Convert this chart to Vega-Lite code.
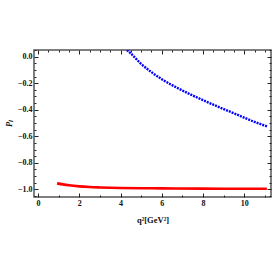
{
  "$schema": "https://vega.github.io/schema/vega-lite/v6.json",
  "autosize": "none",
  "width": 237,
  "height": 147,
  "padding": {"left": 34, "top": 50, "right": 2, "bottom": 76},
  "background": "white",
  "config": {
    "view": {"stroke": "#555555", "strokeWidth": 1.5},
    "axis": {
      "domain": false,
      "grid": false,
      "labelFont": "Liberation Serif",
      "labelFontWeight": "bold",
      "labelFontSize": 8,
      "labelColor": "#111111",
      "tickColor": "#222222",
      "tickWidth": 1,
      "titleFont": "Liberation Serif",
      "titleFontWeight": "bold",
      "titleFontSize": 8.5,
      "titleColor": "#111111",
      "labelOverlap": false,
      "labelFlush": false
    }
  },
  "datasets": {
    "red": [
      {"q2": 0.92, "PL": -0.955},
      {"q2": 1.2, "PL": -0.963},
      {"q2": 1.5, "PL": -0.970},
      {"q2": 2.0, "PL": -0.978},
      {"q2": 2.5, "PL": -0.983},
      {"q2": 3.0, "PL": -0.986},
      {"q2": 4.0, "PL": -0.990},
      {"q2": 5.0, "PL": -0.992},
      {"q2": 6.0, "PL": -0.993},
      {"q2": 8.0, "PL": -0.995},
      {"q2": 10.0, "PL": -0.996},
      {"q2": 11.1, "PL": -0.996}
    ],
    "blue": [
      {"q2": 4.31, "PL": 0.05},
      {"q2": 4.5, "PL": 0.024},
      {"q2": 5.0, "PL": -0.055},
      {"q2": 5.5, "PL": -0.117},
      {"q2": 6.0, "PL": -0.17},
      {"q2": 6.5, "PL": -0.215},
      {"q2": 7.0, "PL": -0.255},
      {"q2": 7.5, "PL": -0.293},
      {"q2": 8.0, "PL": -0.328},
      {"q2": 8.5, "PL": -0.362},
      {"q2": 9.0, "PL": -0.395},
      {"q2": 9.5, "PL": -0.427},
      {"q2": 10.0, "PL": -0.46},
      {"q2": 10.5, "PL": -0.492},
      {"q2": 11.15, "PL": -0.528}
    ]
  },
  "resolve": {"axis": {"x": "independent", "y": "independent"}},
  "layer": [
    {
      "data": {"name": "red"},
      "mark": {"type": "line", "color": "#ff0000", "strokeWidth": 2.6, "clip": true, "interpolate": "monotone"},
      "encoding": {
        "x": {
          "field": "q2", "type": "quantitative",
          "scale": {"domain": [-0.2, 11.3], "nice": false, "zero": false},
          "axis": {
            "orient": "bottom",
            "title": "q²[GeV²]",
            "titlePadding": 6,
            "format": "d",
            "values": [0,0.5,1,1.5,2,2.5,3,3.5,4,4.5,5,5.5,6,6.5,7,7.5,8,8.5,9,9.5,10,10.5,11],
            "labelExpr": "datum.value % 2 === 0 ? datum.label : ''",
            "tickSize": {"condition": {"test": "datum.value % 2 === 0", "value": -4}, "value": -2},
            "labelPadding": 6
          }
        },
        "y": {
          "field": "PL", "type": "quantitative",
          "scale": {"domain": [-1.058, 0.05], "nice": false, "zero": false},
          "axis": {
            "orient": "left",
            "title": "Pₗ",
            "titleFontStyle": "italic",
            "titlePadding": 4,
            "format": ".1f",
            "values": [-1.05,-1,-0.95,-0.9,-0.85,-0.8,-0.75,-0.7,-0.65,-0.6,-0.55,-0.5,-0.45,-0.4,-0.35,-0.3,-0.25,-0.2,-0.15,-0.1,-0.05,0,0.05],
            "labelExpr": "abs(round(datum.value*5) - datum.value*5) < 0.001 ? datum.label : ''",
            "tickSize": {"condition": {"test": "abs(round(datum.value*5) - datum.value*5) < 0.001", "value": -4}, "value": -2},
            "labelPadding": 6
          }
        }
      }
    },
    {
      "data": {"name": "blue"},
      "mark": {"type": "line", "color": "#0000ff", "strokeWidth": 2.4, "strokeDash": [2, 1], "clip": true, "interpolate": "monotone"},
      "encoding": {
        "x": {
          "field": "q2", "type": "quantitative",
          "scale": {"domain": [-0.2, 11.3], "nice": false, "zero": false},
          "axis": {
            "orient": "top",
            "title": null,
            "labels": false,
            "values": [0,0.5,1,1.5,2,2.5,3,3.5,4,4.5,5,5.5,6,6.5,7,7.5,8,8.5,9,9.5,10,10.5,11],
            "tickSize": {"condition": {"test": "datum.value % 2 === 0", "value": -4}, "value": -2}
          }
        },
        "y": {
          "field": "PL", "type": "quantitative",
          "scale": {"domain": [-1.058, 0.05], "nice": false, "zero": false},
          "axis": {
            "orient": "right",
            "title": null,
            "labels": false,
            "values": [-1.05,-1,-0.95,-0.9,-0.85,-0.8,-0.75,-0.7,-0.65,-0.6,-0.55,-0.5,-0.45,-0.4,-0.35,-0.3,-0.25,-0.2,-0.15,-0.1,-0.05,0,0.05],
            "tickSize": {"condition": {"test": "abs(round(datum.value*5) - datum.value*5) < 0.001", "value": -4}, "value": -2}
          }
        }
      }
    }
  ]
}
